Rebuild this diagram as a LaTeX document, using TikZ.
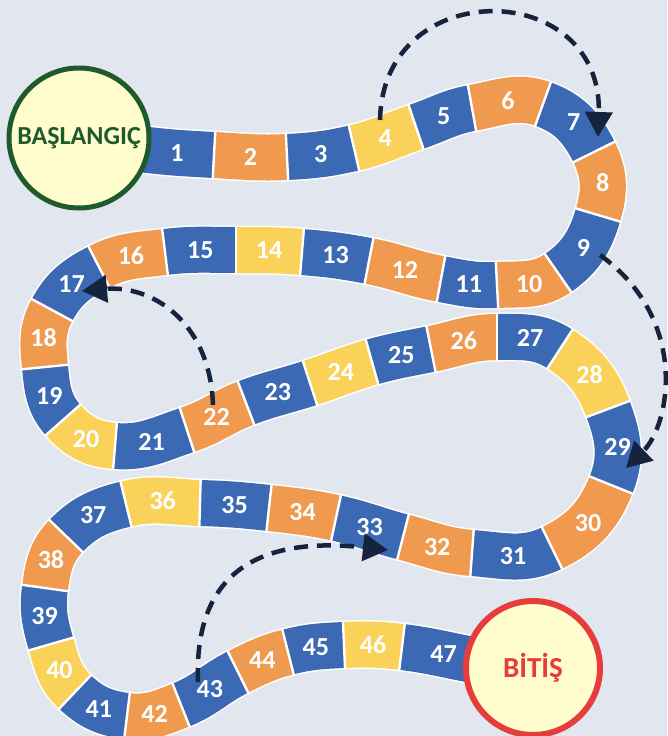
\documentclass[tikz,border=0pt]{standalone}
\usepackage{fontspec}
\setmainfont{Carlito}
\usetikzlibrary{calc,arrows.meta}
\definecolor{bgc}{HTML}{E2E6EE}
\definecolor{segB}{HTML}{3C69B4}
\definecolor{segO}{HTML}{F09A50}
\definecolor{segY}{HTML}{FAD25A}
\definecolor{navy}{HTML}{15233F}
\definecolor{cream}{HTML}{FFFDCD}
\definecolor{startgreen}{HTML}{1F5A2D}
\definecolor{endred}{HTML}{E63C3C}
\begin{document}
\begin{tikzpicture}[x=1pt,y=1pt,
  seg/.style={draw=#1, line width=46pt},
  under/.style={draw=white, line width=49pt},
  sep/.style={draw=white, line width=2.4pt},
  num/.style={text=white, font=\fontsize{26}{26}\selectfont\bfseries, inner sep=0pt},
  goal/.style={circle, fill=cream, inner sep=0pt, font=\fontsize{26}{26}\selectfont\bfseries},
  jump/.style={draw=navy, line width=4.5pt, dash pattern=on 14pt off 9pt, -{Triangle[length=25pt,width=27pt]}}
]
\fill[bgc] (0,0) rectangle (667,-736);
\useasboundingbox (0,0) rectangle (667,-736);
% boundary points of the track
\coordinate (k0) at (80,-138);
\coordinate (k1) at (140,-149);
\coordinate (k2) at (214,-155);
\coordinate (k3) at (287,-157);
\coordinate (k4) at (354,-148);
\coordinate (k5) at (416,-127);
\coordinate (k6) at (472,-108);
\coordinate (k7) at (543,-104);
\coordinate (k8) at (594,-152);
\coordinate (k9) at (598,-215);
\coordinate (k10) at (558,-273);
\coordinate (k11) at (497,-285);
\coordinate (k12) at (441,-279);
\coordinate (k13) at (369,-261);
\coordinate (k14) at (302,-252);
\coordinate (k15) at (236,-250);
\coordinate (k16) at (165,-252);
\coordinate (k17) at (99,-267);
\coordinate (k18) at (52,-310);
\coordinate (k19) at (45,-367);
\coordinate (k20) at (63,-420);
\coordinate (k21) at (115,-446);
\coordinate (k22) at (187,-430);
\coordinate (k23) at (246,-403);
\coordinate (k24) at (310,-383);
\coordinate (k25) at (372,-362);
\coordinate (k26) at (431,-349);
\coordinate (k27) at (497,-337);
\coordinate (k28) at (560,-349);
\coordinate (k29) at (608,-409);
\coordinate (k30) at (611,-485);
\coordinate (k31) at (552,-548);
\coordinate (k32) at (472,-553);
\coordinate (k33) at (403,-537);
\coordinate (k34) at (336,-518);
\coordinate (k35) at (269,-508);
\coordinate (k36) at (200,-503);
\coordinate (k37) at (126,-504);
\coordinate (k38) at (66,-536);
\coordinate (k39) at (45,-588);
\coordinate (k40) at (51,-644);
\coordinate (k41) at (75,-692);
\coordinate (k42) at (127,-716);
\coordinate (k43) at (181,-705);
\coordinate (k44) at (238,-672);
\coordinate (k45) at (288,-652);
\coordinate (k46) at (344,-645);
\coordinate (k47) at (402,-647);
\coordinate (k48) at (485,-662);
\coordinate (k49) at (533,-668);
% white rim under the track
\foreach \i [evaluate=\i as \ia using int(\i+1), evaluate=\i as \ib using int(\i+2), evaluate=\i as \iz using int(\i-1)] in {1,...,47}
  \draw[under] let \p1=($(k\ia)-(k\iz)$), \p2=($(k\ib)-(k\i)$), \n1={atan2(\y1,\x1)}, \n2={atan2(\y2,\x2)+180} in (k\i) to[out=\n1,in=\n2] (k\ia);
% coloured squares
\foreach \i/\c [evaluate=\i as \ia using int(\i+1), evaluate=\i as \ib using int(\i+2), evaluate=\i as \iz using int(\i-1)] in
 {1/segB,2/segO,3/segB,4/segY,5/segB,6/segO,7/segB,8/segO,9/segB,10/segO,
  11/segB,12/segO,13/segB,14/segY,15/segB,16/segO,17/segB,18/segO,19/segB,20/segY,
  21/segB,22/segO,23/segB,24/segY,25/segB,26/segO,27/segB,28/segY,29/segB,30/segO,
  31/segB,32/segO,33/segB,34/segO,35/segB,36/segY,37/segB,38/segO,39/segB,40/segY,
  41/segB,42/segO,43/segB,44/segO,45/segB,46/segY,47/segB}
  \draw[seg=\c] let \p1=($(k\ia)-(k\iz)$), \p2=($(k\ib)-(k\i)$), \n1={atan2(\y1,\x1)}, \n2={atan2(\y2,\x2)+180} in (k\i) to[out=\n1,in=\n2] coordinate[pos=0.5] (m\i) (k\ia);
% white separators
\foreach \j [evaluate=\j as \ja using int(\j+1), evaluate=\j as \jz using int(\j-1)] in {2,...,47}
  \draw[sep] let \p1=($(k\ja)-(k\jz)$), \n1={atan2(\y1,\x1)} in ($(k\j)+(\n1+90:24.5pt)$) -- ($(k\j)+(\n1-90:24.5pt)$);
% numbers
\foreach \i in {1,...,47}
  \node[num] (n\i) at (m\i) {\i};
% start and finish
\node[goal, draw=startgreen, line width=5pt, minimum size=140pt, text=startgreen] (start) at (79,-138) {BAŞLANGIÇ};
\node[goal, draw=endred, line width=6pt, minimum size=134pt, text=endred, font=\fontsize{29}{29}\selectfont\bfseries] (finish) at (533,-668) {BİTİŞ};
% jumps
\coordinate (a4) at (380,-120);
\coordinate (a7) at (598,-137);
\coordinate (a9) at (600,-255);
\coordinate (a29) at (626,-468);
\coordinate (a22) at (213,-405);
\coordinate (a17) at (82,-291);
\coordinate (a43) at (198,-682);
\coordinate (a33) at (388,-550);
\draw[jump] (a4) .. controls (383,26) and (603,22) .. (a7);
\draw[jump] (a9) .. controls (690,-320) and (670,-425) .. (a29);
\draw[jump] (a22) .. controls (210,-320) and (150,-285) .. (a17);
\draw[jump] (a43) .. controls (194,-580) and (250,-535) .. (a33);
\end{tikzpicture}
\end{document}
